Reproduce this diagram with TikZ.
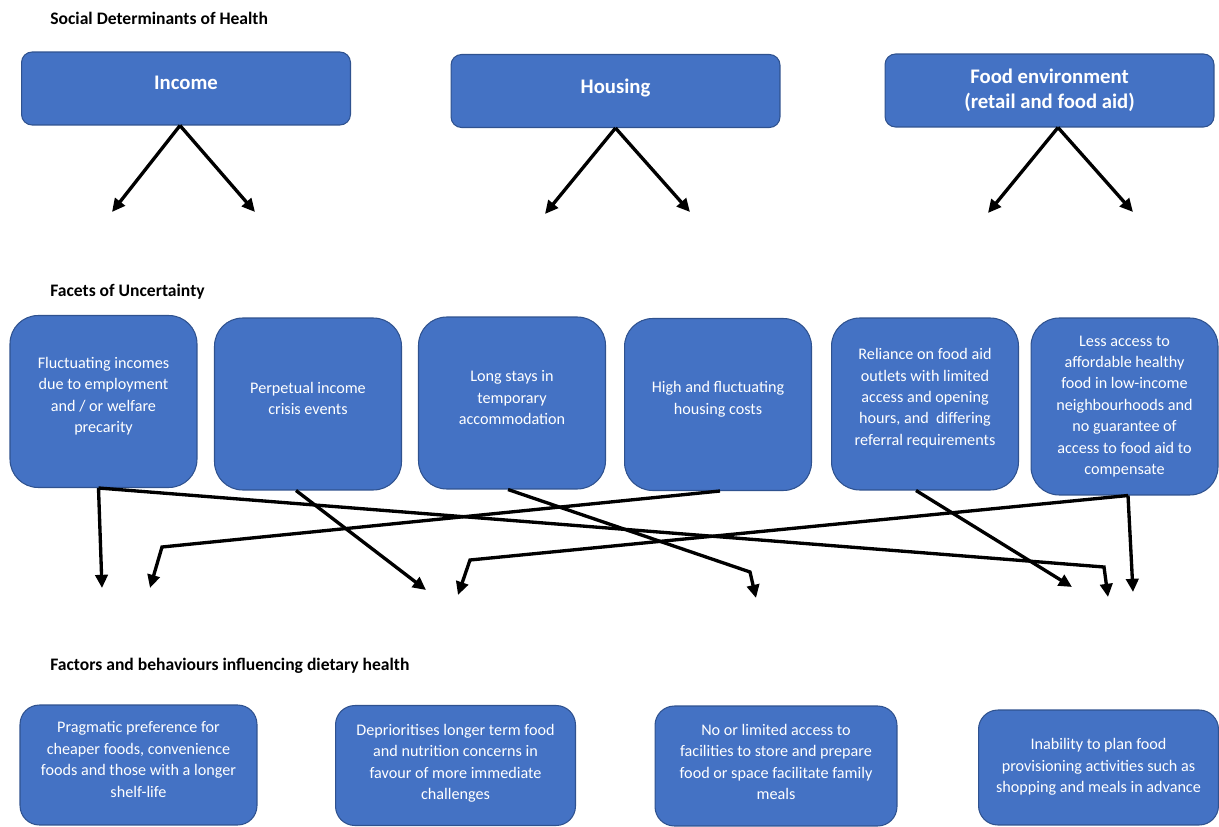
\documentclass[tikz,border=0pt]{standalone}
\usepackage{fontspec}
\setmainfont{Carlito}
\usetikzlibrary{positioning,arrows.meta,calc}
\definecolor{sdhblue}{HTML}{4472C4}
\definecolor{sdhedge}{HTML}{2F528F}
\tikzset{
  sdhbox/.style={draw=sdhedge, line width=0.6pt, fill=sdhblue, text=white, align=center,
    rounded corners=6pt, minimum width=6.58cm, minimum height=1.46cm,
    font=\fontsize{11.8}{14.2}\selectfont\bfseries},
  facetbox/.style={draw=sdhedge, line width=0.6pt, fill=sdhblue, text=white, align=center,
    rounded corners=16pt, minimum width=3.74cm, minimum height=3.44cm,
    font=\fontsize{9.2}{12.2}\selectfont},
  factorbox/.style={facetbox, rounded corners=11pt, minimum width=4.8cm, minimum height=2.4cm},
  lift/.style={text depth=#1},
  headlabel/.style={anchor=west, inner sep=0pt, font=\fontsize{10}{12}\selectfont\bfseries},
  linkarrow/.style={-{Triangle[length=7.5pt,width=7pt]}, line width=1.9pt},
}

\begin{document}
\begin{tikzpicture}[x=0.02cm, y=-0.02cm]
  \useasboundingbox (0,0) rectangle (1219,827);
  % headings
  \node[headlabel] (hsdh) at (50,18) {Social Determinants of Health};
  \node[headlabel] (hfac) at (50,292) {Facets of Uncertainty};
  \node[headlabel] (hdie) at (50,666) {Factors and behaviours influencing dietary health};
  % determinants
  \node[sdhbox, lift=6.8pt] (inc) at (186,88.5) {Income};
  \node[sdhbox, lift=5.3pt] (hou) at (615.5,91) {Housing};
  \node[sdhbox] (food) at (1049.5,90.5) {Food environment\\(retail and food aid)};
  % facets
  \node[facetbox, lift=7.6pt] (f1) at (103.5,401.5) {Fluctuating incomes\\due to employment\\and / or welfare\\precarity};
  \node[facetbox, lift=6.2pt] (f2) at (308,404) {Perpetual income\\crisis events};
  \node[facetbox, lift=6.2pt] (f3) at (512,403) {Long stays in\\temporary\\accommodation};
  \node[facetbox, lift=7.6pt] (f4) at (718,404.5) {High and fluctuating\\housing costs};
  \node[facetbox, lift=8.1pt] (f5) at (925,404) {Reliance on food aid\\outlets with limited\\access and opening\\hours, and~ differing\\referral requirements};
  \node[facetbox, minimum height=3.54cm] (f6) at (1124.5,406.5) {Less access to\\affordable healthy\\food in low-income\\neighbourhoods and\\no guarantee of\\access to food aid to\\compensate};
  % factors
  \node[factorbox, minimum width=4.74cm, lift=6.2pt] (g1) at (138.5,765) {Pragmatic preference for\\cheaper foods, convenience\\foods and those with a longer\\shelf-life};
  \node[factorbox, lift=4.2pt] (g2) at (455.5,765.5) {Deprioritises longer term food\\and nutrition concerns in\\favour of more immediate\\challenges};
  \node[factorbox, minimum width=4.84cm, lift=4.5pt] (g3) at (776,766) {No or limited access to\\facilities to store and prepare\\food or space facilitate family\\meals};
  \node[factorbox, minimum height=2.3cm, lift=2.3pt] (g4) at (1098.5,767.5) {Inability to plan food\\provisioning activities such as\\shopping and meals in advance};
  % arrow ends
  \coordinate (incl) at (112,212);
  \coordinate (incr) at (255,212);
  \coordinate (houl) at (545,214);
  \coordinate (hour) at (690,212);
  \coordinate (foodl) at (988,213);
  \coordinate (foodr) at (1133,212);
  \coordinate (d1) at (102,588);
  \coordinate (d2) at (1108,597);
  \coordinate (d3) at (426,590);
  \coordinate (d4) at (756,598);
  \coordinate (d5) at (150,588);
  \coordinate (d6) at (1072,587);
  \coordinate (d7) at (1133,592);
  \coordinate (d8) at (458,595);
  % top links
  \draw[linkarrow] ($(inc.south)+(-6,0)$) -- (incl);
  \draw[linkarrow] ($(inc.south)+(-6,0)$) -- (incr);
  \draw[linkarrow] (hou.south) -- (houl);
  \draw[linkarrow] (hou.south) -- (hour);
  \draw[linkarrow] ($(food.south)+(8.5,0)$) -- (foodl);
  \draw[linkarrow] ($(food.south)+(8.5,0)$) -- (foodr);
  % lower links
  \draw[linkarrow] ($(f1.south)+(-5,0)$) -- (d1);
  \draw[linkarrow] ($(f1.south)+(-5,0)$) -- (1104,567) -- (d2);
  \draw[linkarrow] ($(f2.south)+(-12,0)$) -- (d3);
  \draw[linkarrow] ($(f3.south)+(-4,0)$) -- (750,572) -- (d4);
  \draw[linkarrow] ($(f4.south)+(2,0)$) -- (162,547) -- (d5);
  \draw[linkarrow] ($(f5.south)+(-9,0)$) -- (d6);
  \draw[linkarrow] ($(f6.south)+(3.5,0)$) -- (d7);
  \draw[linkarrow] ($(f6.south)+(3.5,0)$) -- (470,560) -- (d8);
\end{tikzpicture}
\end{document}
